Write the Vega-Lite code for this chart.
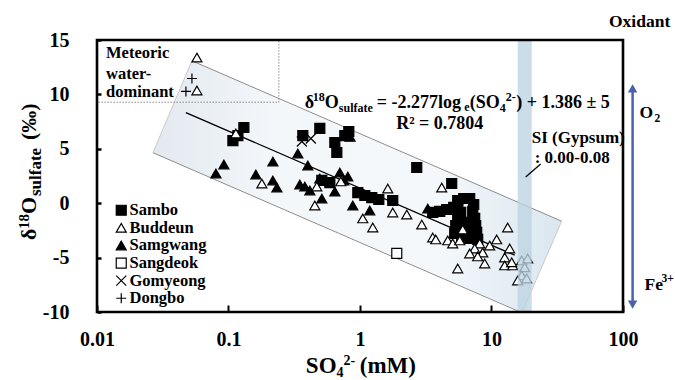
{
  "$schema": "https://vega.github.io/schema/vega-lite/v6.json",
  "width": 526,
  "height": 272,
  "autosize": {"type": "none"},
  "padding": {"left": 97, "top": 40, "right": 52, "bottom": 68},
  "background": "white",
  "config": {
    "view": {"stroke": null},
    "axis": {"labelFont": "Liberation Serif", "labelFontWeight": "bold", "labelColor": "black", "grid": false, "domain": false, "tickColor": "black", "labelFlush": false, "labelOverlap": false},
    "legend": {"orient": "none", "legendX": 16, "legendY": 162, "padding": 0, "labelFont": "Liberation Serif", "labelFontWeight": "bold", "labelFontSize": 16.5, "labelColor": "black", "symbolSize": 100, "symbolStrokeWidth": 1.2, "rowPadding": 0.6, "labelOffset": 0, "title": null},
    "text": {"font": "Liberation Serif", "fontWeight": "bold", "color": "black", "baseline": "alphabetic"}
  },
  "datasets": {
    "pts": [
      {"site": "Sambo", "x": 0.1309, "y": 6.96}, {"site": "Sambo", "x": 0.108, "y": 5.76}, {"site": "Sambo", "x": 0.1179, "y": 6.22},
      {"site": "Sambo", "x": 0.3675, "y": 6.22}, {"site": "Sambo", "x": 0.4949, "y": 6.87}, {"site": "Sambo", "x": 0.6436, "y": 5.58},
      {"site": "Sambo", "x": 0.7666, "y": 6.22}, {"site": "Sambo", "x": 0.6665, "y": 4.66}, {"site": "Sambo", "x": 0.822, "y": 6.59},
      {"site": "Sambo", "x": 0.5125, "y": 2.09}, {"site": "Sambo", "x": 0.5896, "y": 1.9}, {"site": "Sambo", "x": 0.9623, "y": 0.98},
      {"site": "Sambo", "x": 1.088, "y": 0.71}, {"site": "Sambo", "x": 1.229, "y": 0.52}, {"site": "Sambo", "x": 1.39, "y": 0.34},
      {"site": "Sambo", "x": 1.775, "y": 0.25}, {"site": "Sambo", "x": 2.702, "y": 3.28}, {"site": "Sambo", "x": 4.984, "y": 1.81},
      {"site": "Sambo", "x": 3.574, "y": -0.85}, {"site": "Sambo", "x": 4.041, "y": -0.76}, {"site": "Sambo", "x": 4.566, "y": -0.58},
      {"site": "Sambo", "x": 5.162, "y": -0.39}, {"site": "Sambo", "x": 5.536, "y": -0.3}, {"site": "Sambo", "x": 5.536, "y": 0.25},
      {"site": "Sambo", "x": 6.148, "y": 0.43}, {"site": "Sambo", "x": 6.829, "y": 0.43}, {"site": "Sambo", "x": 7.324, "y": -0.12},
      {"site": "Sambo", "x": 7.197, "y": -0.76}, {"site": "Sambo", "x": 7.453, "y": -1.4}, {"site": "Sambo", "x": 7.585, "y": -2.05},
      {"site": "Sambo", "x": 7.719, "y": -2.69}, {"site": "Sambo", "x": 7.855, "y": -3.33}, {"site": "Sambo", "x": 6.829, "y": -3.24},
      {"site": "Sambo", "x": 5.937, "y": -3.06}, {"site": "Sambo", "x": 5.346, "y": -2.05}, {"site": "Sambo", "x": 5.536, "y": -1.4},
      {"site": "Sambo", "x": 6.256, "y": -1.77}, {"site": "Sambo", "x": 6.594, "y": -2.51}, {"site": "Sambo", "x": 5.253, "y": -2.78},
      {"site": "Sambo", "x": 5.834, "y": -0.85},
      {"site": "Samgwang", "x": 0.08023, "y": 2.73}, {"site": "Samgwang", "x": 0.09226, "y": 3.56}, {"site": "Samgwang", "x": 0.1615, "y": 2.64},
      {"site": "Samgwang", "x": 0.2175, "y": 3.83}, {"site": "Samgwang", "x": 0.2175, "y": 2.09}, {"site": "Samgwang", "x": 0.2333, "y": 1.44},
      {"site": "Samgwang", "x": 0.3368, "y": 4.57}, {"site": "Samgwang", "x": 0.4012, "y": 3.47}, {"site": "Samgwang", "x": 0.7024, "y": 2.82},
      {"site": "Samgwang", "x": 0.8077, "y": 2.45}, {"site": "Samgwang", "x": 0.7533, "y": 2.09}, {"site": "Samgwang", "x": 0.3806, "y": 1.53},
      {"site": "Samgwang", "x": 0.4155, "y": 1.17}, {"site": "Samgwang", "x": 0.5125, "y": 0.43}, {"site": "Samgwang", "x": 0.6436, "y": 1.08},
      {"site": "Samgwang", "x": 0.8817, "y": -0.21}, {"site": "Samgwang", "x": 1.187, "y": -0.67}, {"site": "Samgwang", "x": 3.275, "y": -0.49},
      {"site": "Samgwang", "x": 0.4949, "y": 2.27}, {"site": "Samgwang", "x": 0.3488, "y": 1.72}, {"site": "Samgwang", "x": 0.84, "y": 6.1},
      {"site": "Buddeun", "x": 0.05754, "y": 13.39}, {"site": "Buddeun", "x": 0.05754, "y": 10.36}, {"site": "Buddeun", "x": 0.1138, "y": 6.41},
      {"site": "Buddeun", "x": 0.1794, "y": 1.81}, {"site": "Buddeun", "x": 0.4695, "y": 1.53}, {"site": "Buddeun", "x": 0.4535, "y": -0.21},
      {"site": "Buddeun", "x": 0.7148, "y": 2.0}, {"site": "Buddeun", "x": 1.626, "y": 1.35}, {"site": "Buddeun", "x": 4.184, "y": 1.44},
      {"site": "Buddeun", "x": 1.05, "y": -1.4}, {"site": "Buddeun", "x": 1.251, "y": -2.23}, {"site": "Buddeun", "x": 1.775, "y": -0.85},
      {"site": "Buddeun", "x": 2.268, "y": -1.04}, {"site": "Buddeun", "x": 2.949, "y": -1.96}, {"site": "Buddeun", "x": 3.574, "y": -3.15},
      {"site": "Buddeun", "x": 3.767, "y": -3.33}, {"site": "Buddeun", "x": 4.647, "y": -3.42}, {"site": "Buddeun", "x": 5.072, "y": -3.7},
      {"site": "Buddeun", "x": 5.734, "y": -3.42}, {"site": "Buddeun", "x": 6.041, "y": -2.42}, {"site": "Buddeun", "x": 13.28, "y": -2.23},
      {"site": "Buddeun", "x": 10.95, "y": -3.33}, {"site": "Buddeun", "x": 8.134, "y": -3.7}, {"site": "Buddeun", "x": 7.453, "y": -4.16},
      {"site": "Buddeun", "x": 8.573, "y": -4.53}, {"site": "Buddeun", "x": 6.829, "y": -4.62}, {"site": "Buddeun", "x": 7.855, "y": -4.89},
      {"site": "Buddeun", "x": 8.878, "y": -5.54}, {"site": "Buddeun", "x": 5.536, "y": -6.0}, {"site": "Buddeun", "x": 13.75, "y": -4.16},
      {"site": "Buddeun", "x": 12.6, "y": -4.99}, {"site": "Buddeun", "x": 12.6, "y": -5.72}, {"site": "Buddeun", "x": 14.49, "y": -5.72},
      {"site": "Buddeun", "x": 16.96, "y": -5.26}, {"site": "Buddeun", "x": 18.84, "y": -5.08}, {"site": "Buddeun", "x": 17.87, "y": -5.9},
      {"site": "Buddeun", "x": 16.96, "y": -6.64}, {"site": "Buddeun", "x": 15.82, "y": -7.1}, {"site": "Buddeun", "x": 18.51, "y": -6.92},
      {"site": "Buddeun", "x": 14.24, "y": -5.44}, {"site": "Buddeun", "x": 9.689, "y": -3.9},
      {"site": "Sangdeok", "x": 1.904, "y": -4.62},
      {"site": "Gomyeong", "x": 0.3612, "y": 5.67}, {"site": "Gomyeong", "x": 0.4228, "y": 5.95},
      {"site": "Dongbo", "x": 0.05271, "y": 11.46}, {"site": "Dongbo", "x": 0.04745, "y": 10.27}
    ],
    "txt": [
      {"g": "eq", "t": "δ", "x": 0.3806, "y": 8.75},
      {"g": "eq", "t": "O", "x": 0.5402, "y": 8.75},
      {"g": "eq", "t": "= -2.277log", "x": 1.342, "y": 8.75},
      {"g": "eq", "t": "(SO", "x": 6.829, "y": 8.75},
      {"g": "eq", "t": ") + 1.386 ± 5", "x": 15.41, "y": 8.75},
      {"g": "eqs", "t": "18", "x": 0.4379, "y": 9.39},
      {"g": "eqs", "t": "sulfate", "x": 0.6901, "y": 8.38},
      {"g": "eqs", "t": "e", "x": 6.203, "y": 8.5},
      {"g": "eqs", "t": "4", "x": 11.54, "y": 8.38},
      {"g": "eqs", "t": "2-", "x": 12.82, "y": 9.39},
      {"g": "r2", "t": "R² = 0.7804", "x": 4.04, "y": 6.8},
      {"g": "si", "t": "SI (Gypsum)", "x": 20.21, "y": 5.53},
      {"g": "si", "t": ": 0.00-0.08", "x": 21.3, "y": 3.69},
      {"g": "met", "t": "Meteoric", "x": 0.01171, "y": 13.35},
      {"g": "met", "t": "water-", "x": 0.01171, "y": 11.42},
      {"g": "met", "t": "dominant", "x": 0.01171, "y": 9.76},
      {"g": "rt", "t": "O", "x": 133.7, "y": 7.83},
      {"g": "rt", "t": "Fe", "x": 145.9, "y": -7.98},
      {"g": "rts", "t": "2", "x": 173.9, "y": 7.46},
      {"g": "rts", "t": "3+", "x": 196.5, "y": -7.24},
      {"g": "ox", "t": "Oxidant", "x": 133.7, "y": 16.19},
      {"g": "yt", "t": "δ", "x": 0.003439, "y": -3.38},
      {"g": "yt", "t": "O", "x": 0.003439, "y": -0.99},
      {"g": "yt", "t": "(‰)", "x": 0.003439, "y": 5.81},
      {"g": "ytp", "t": "18", "x": 0.003043, "y": -2.37},
      {"g": "yts", "t": "sulfate", "x": 0.003754, "y": 0.66},
      {"g": "xt", "t": "SO", "x": 0.3874, "y": -15.61},
      {"g": "xt", "t": "(mM)", "x": 0.9966, "y": -15.61},
      {"g": "xts", "t": "4", "x": 0.663, "y": -15.97},
      {"g": "xts", "t": "2-", "x": 0.7491, "y": -14.87}
    ]
  },
  "encoding": {
    "x": {"field": "x", "type": "quantitative", "scale": {"type": "log", "domain": [0.01, 100]},
      "axis": {"title": null, "values": [0.01, 0.1, 1, 10, 100], "format": "~g", "labelFontSize": 20, "labelPadding": 24, "tickSize": -7, "tickWidth": 2}},
    "y": {"field": "y", "type": "quantitative", "scale": {"domain": [-10, 15], "nice": false, "zero": false},
      "axis": {"title": null, "values": [-10, -5, 0, 5, 10, 15], "labelExpr": "datum.value + ''", "labelFontSize": 20, "labelPadding": 32, "tickSize": -4, "tickWidth": 2.5}}
  },
  "layer": [
    {
      "data": {"values": [
        {"x": 0.02664, "y": 4.64, "y2": 4.64},
        {"x": 0.0527, "y": 3.09, "y2": 13.09},
        {"x": 17.05, "y": -10.0, "y2": -0.07},
        {"x": 34.16, "y": -1.654, "y2": -1.654}
      ]},
      "mark": {"type": "area", "color": {"gradient": "linear", "x1": 0, "y1": 0, "x2": 1, "y2": 0,
        "stops": [{"offset": 0, "color": "#e2e9ef"}, {"offset": 0.3, "color": "#f4f7fa"}, {"offset": 0.7, "color": "#f4f8fb"}, {"offset": 1, "color": "#dae6ef"}]}},
      "encoding": {"y2": {"field": "y2"}}
    },
    {
      "data": {"values": [
        {"s": "up", "x": 0.0527, "y": 13.09}, {"s": "up", "x": 34.16, "y": -1.654},
        {"s": "lo", "x": 0.02664, "y": 4.64}, {"s": "lo", "x": 17.05, "y": -10.07}
      ]},
      "mark": {"type": "line", "color": "#808080", "strokeWidth": 0.9},
      "encoding": {"detail": {"field": "s"}}
    },
    {
      "data": {"values": [
        {"s": "l", "x": 0.0527, "y": 13.09}, {"s": "l", "x": 0.02664, "y": 4.64},
        {"s": "r", "x": 34.16, "y": -1.654}, {"s": "r", "x": 17.05, "y": -10.07}
      ]},
      "mark": {"type": "line", "color": "#c4c4c4", "strokeWidth": 0.9},
      "encoding": {"detail": {"field": "s"}}
    },
    {
      "data": {"values": [{"x": 0.0474, "y": 8.33}, {"x": 15, "y": -4.78}]},
      "mark": {"type": "line", "color": "black", "strokeWidth": 1.3},
      "encoding": {}
    },
    {
      "data": {"values": [{"x": 0.01, "x2": 0.2415, "y": 9.28, "y2": 15}]},
      "mark": {"type": "rect", "fillOpacity": 0, "stroke": "#8a8a8a", "strokeWidth": 1, "strokeDash": [1.5, 1.5]},
      "encoding": {"x2": {"field": "x2"}, "y2": {"field": "y2"}}
    },
    {
      "data": {"name": "pts"},
      "mark": {"type": "point", "size": 100, "strokeWidth": 1.2, "opacity": 1},
      "encoding": {
        "stroke": {"field": "site", "type": "nominal", "sort": null,
          "scale": {"domain": ["Sambo", "Buddeun", "Samgwang", "Sangdeok", "Gomyeong", "Dongbo"],
            "range": ["black", "black", "black", "black", "black", "black"]}},
        "shape": {"field": "site", "type": "nominal", "sort": null,
          "scale": {"domain": ["Sambo", "Buddeun", "Samgwang", "Sangdeok", "Gomyeong", "Dongbo"],
            "range": ["square", "triangle-up", "triangle-up", "square", "M-1,-1L1,1M1,-1L-1,1", "M-1,0L1,0M0,-1L0,1"]}},
        "fill": {"field": "site", "type": "nominal", "sort": null,
          "scale": {"domain": ["Sambo", "Buddeun", "Samgwang", "Sangdeok", "Gomyeong", "Dongbo"],
            "range": ["black", "white", "black", "white", "transparent", "transparent"]}}
      }
    },
    {
      "data": {"values": [{"x": 15.82, "x2": 20.21, "y": -10, "y2": 15}]},
      "mark": {"type": "rect", "color": "#bcd3e2", "opacity": 0.78},
      "encoding": {"x2": {"field": "x2"}, "y2": {"field": "y2"}}
    },
    {
      "data": {"values": [{"x": 23.65, "y": 3.6, "x2": 18.19, "y2": 2.41}]},
      "mark": {"type": "rule", "color": "black", "strokeWidth": 1.3},
      "encoding": {"x2": {"field": "x2"}, "y2": {"field": "y2"}}
    },
    {
      "data": {"values": [{"x": 0.01, "x2": 100, "y": -10, "y2": 15}]},
      "mark": {"type": "rect", "fillOpacity": 0, "stroke": "black", "strokeWidth": 2.6},
      "encoding": {"x2": {"field": "x2"}, "y2": {"field": "y2"}}
    },
    {
      "data": {"values": [{"x": 118.3, "y": -9.17, "y2": 10.4}]},
      "mark": {"type": "rule", "color": "#4a62ac", "strokeWidth": 2.5},
      "encoding": {"y2": {"field": "y2"}}
    },
    {
      "data": {"values": [{"x": 118.3, "y": 10.55}]},
      "mark": {"type": "point", "shape": "triangle-up", "filled": true, "color": "#4a62ac", "size": 90, "opacity": 1},
      "encoding": {}
    },
    {
      "data": {"values": [{"x": 118.3, "y": -9.32}]},
      "mark": {"type": "point", "shape": "triangle-down", "filled": true, "color": "#4a62ac", "size": 90, "opacity": 1},
      "encoding": {}
    },
    {
      "data": {"name": "txt"}, "transform": [{"filter": "datum.g == 'eq'"}],
      "mark": {"type": "text", "align": "left", "fontSize": 18},
      "encoding": {"text": {"field": "t"}}
    },
    {
      "data": {"name": "txt"}, "transform": [{"filter": "datum.g == 'eqs'"}],
      "mark": {"type": "text", "align": "left", "fontSize": 12},
      "encoding": {"text": {"field": "t"}}
    },
    {
      "data": {"name": "txt"}, "transform": [{"filter": "datum.g == 'r2'"}],
      "mark": {"type": "text", "align": "center", "fontSize": 18},
      "encoding": {"text": {"field": "t"}}
    },
    {
      "data": {"name": "txt"}, "transform": [{"filter": "datum.g == 'si'"}],
      "mark": {"type": "text", "align": "left", "fontSize": 17},
      "encoding": {"text": {"field": "t"}}
    },
    {
      "data": {"name": "txt"}, "transform": [{"filter": "datum.g == 'met'"}],
      "mark": {"type": "text", "align": "left", "fontSize": 16.5},
      "encoding": {"text": {"field": "t"}}
    },
    {
      "data": {"name": "txt"}, "transform": [{"filter": "datum.g == 'rt'"}],
      "mark": {"type": "text", "align": "left", "fontSize": 17.5},
      "encoding": {"text": {"field": "t"}}
    },
    {
      "data": {"name": "txt"}, "transform": [{"filter": "datum.g == 'rts'"}],
      "mark": {"type": "text", "align": "left", "fontSize": 11.5},
      "encoding": {"text": {"field": "t"}}
    },
    {
      "data": {"name": "txt"}, "transform": [{"filter": "datum.g == 'ox'"}],
      "mark": {"type": "text", "align": "center", "fontSize": 17.5},
      "encoding": {"text": {"field": "t"}}
    },
    {
      "data": {"name": "txt"}, "transform": [{"filter": "datum.g == 'yt'"}],
      "mark": {"type": "text", "align": "left", "fontSize": 22, "angle": 270},
      "encoding": {"text": {"field": "t"}}
    },
    {
      "data": {"name": "txt"}, "transform": [{"filter": "datum.g == 'ytp'"}],
      "mark": {"type": "text", "align": "left", "fontSize": 15, "angle": 270},
      "encoding": {"text": {"field": "t"}}
    },
    {
      "data": {"name": "txt"}, "transform": [{"filter": "datum.g == 'yts'"}],
      "mark": {"type": "text", "align": "left", "fontSize": 17, "angle": 270},
      "encoding": {"text": {"field": "t"}}
    },
    {
      "data": {"name": "txt"}, "transform": [{"filter": "datum.g == 'xt'"}],
      "mark": {"type": "text", "align": "left", "fontSize": 23},
      "encoding": {"text": {"field": "t"}}
    },
    {
      "data": {"name": "txt"}, "transform": [{"filter": "datum.g == 'xts'"}],
      "mark": {"type": "text", "align": "left", "fontSize": 14},
      "encoding": {"text": {"field": "t"}}
    }
  ]
}
